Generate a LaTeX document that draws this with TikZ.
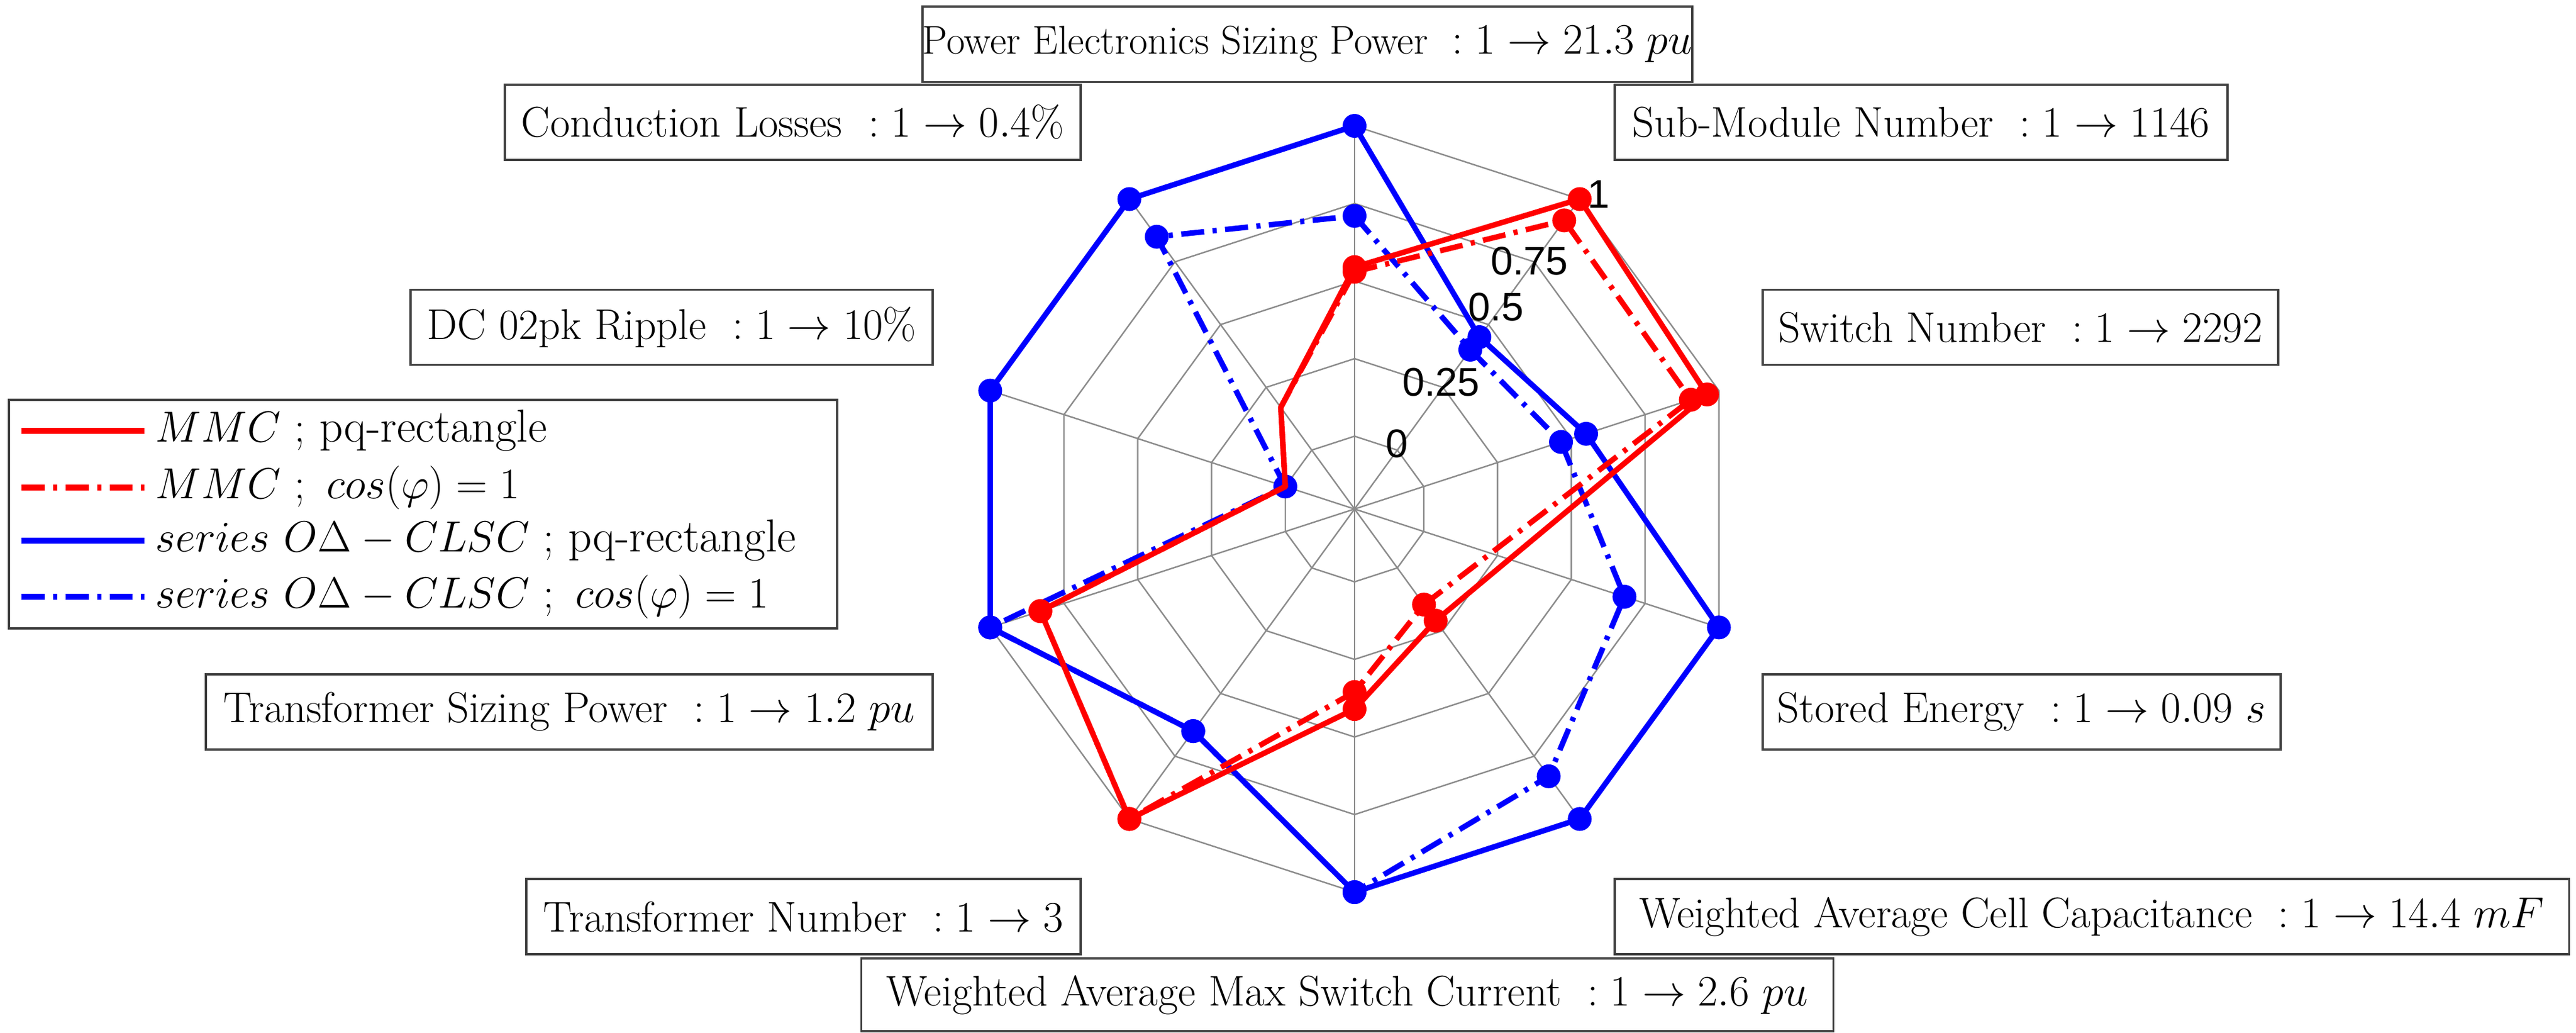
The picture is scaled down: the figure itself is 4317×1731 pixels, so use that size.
\documentclass[tikz,border=0pt]{standalone}
\usepackage{fontspec}
\newfontfamily\ticksf{Liberation Sans}
\begin{document}
\begin{tikzpicture}[x=0.01cm,y=0.01cm,
  box/.style={draw=black!75,line width=1.1pt,minimum height=1.26cm,inner sep=0pt,font=\fontsize{20.5}{24}\selectfont},
  grid/.style={draw=black!45,line width=0.7pt},
  ser/.style={line width=2.6pt,line join=round},
  dd/.style={dash pattern=on 11pt off 4pt on 2pt off 4pt},
  ticklbl/.style={font=\ticksf\fontsize{19}{22}\selectfont,inner sep=0pt}]
\useasboundingbox (0,0) rectangle (4317,1731);
% chart
\begin{scope}[shift={(2270,878)}]
  \coordinate (c) at (0,0);
  \foreach \v in {0,0.25,0.5,0.75,1}{
    \draw[grid] (90:{122+520*\v}) \foreach \k in {1,...,9}{ -- ({90-36*\k}:{122+520*\v}) } -- cycle;
  }
  \foreach \k in {0,...,9}{ \draw[grid] (c) -- ({90-36*\k}:642); }
  % data
  \foreach \v [count=\k from 0] in {1,0.45,0.55,1,1,1,0.65,1,1,1}
    \coordinate (bs\k) at ({90-36*\k}:{122+520*\v});
  \foreach \v [count=\k from 0] in {0.71,0.40,0.465,0.68,0.83,1,0.65,1,0,0.85}
    \coordinate (bd\k) at ({90-36*\k}:{122+520*\v});
  \foreach \v [count=\k from 0] in {0.545,1,0.96,0,0.21,0.41,1,0.83,0,0.17}
    \coordinate (rs\k) at ({90-36*\k}:{122+520*\v});
  \foreach \v [count=\k from 0] in {0.53,0.915,0.905,0,0.146,0.355,1,0.83,0,0.17}
    \coordinate (rd\k) at ({90-36*\k}:{122+520*\v});
  \draw[ser,blue,dd] (bd0)--(bd1)--(bd2)--(bd3)--(bd4)--(bd5)--(bd6)--(bd7)--(bd8)--(bd9)--cycle;
  \foreach \k in {0,...,9} \fill[blue] (bd\k) circle (20);
  \draw[ser,blue] (bs0)--(bs1)--(bs2)--(bs3)--(bs4)--(bs5)--(bs6)--(bs7)--(bs8)--(bs9)--cycle;
  \foreach \k in {0,...,9} \fill[blue] (bs\k) circle (20);
  \draw[ser,red,dd] (rd0)--(rd1)--(rd2)--(rd4)--(rd5)--(rd6)--(rd7)--(rd8)--(rd9)--cycle;
  \foreach \k in {0,1,2,4,5,6,7} \fill[red] (rd\k) circle (20);
  \draw[ser,red] (rs0)--(rs1)--(rs2)--(rs4)--(rs5)--(rs6)--(rs7)--(rs8)--(rs9)--cycle;
  \foreach \k in {0,1,2,4,5,6,7} \fill[red] (rs\k) circle (20);
\end{scope}
\node[ticklbl] (t1) at (2679,1405) {1};
\node[ticklbl] (t2) at (2563,1293) {0.75};
\node[ticklbl] (t3) at (2507,1216) {0.5};
\node[ticklbl] (t4) at (2415,1090) {0.25};
\node[ticklbl] (t5) at (2341,987) {0};
% labels
\node[box,minimum width=12.84cm,font=\fontsize{19.2}{23}\selectfont] (pe) at (2191,1656.5) {Power Electronics Sizing Power~ $:1\rightarrow 21.3\ pu$};
\node[box,minimum width=9.65cm] (cl) at (1328.5,1526) {Conduction Losses~ $:1\rightarrow 0.4\%$};
\node[box,minimum width=10.27cm] (smn) at (3219.5,1526) {Sub-Module Number~ $:1\rightarrow 1146$};
\node[box,minimum width=8.75cm] (dc) at (1125.5,1182.5) {DC 02pk Ripple~ $:1\rightarrow 10\%$};
\node[box,minimum width=8.64cm] (sn) at (3386,1182.5) {Switch Number~ $:1\rightarrow 2292$};
\node[box,minimum width=12.18cm] (tsp) at (954,538) {Transformer Sizing Power~ $:1\rightarrow 1.2\ pu$};
\node[box,minimum width=8.68cm] (se) at (3388,538) {Stored Energy~ $:1\rightarrow 0.09\ s$};
\node[box,minimum width=9.29cm] (tn) at (1346.5,195) {Transformer Number~ $:1\rightarrow 3$};
\node[box,minimum width=15.99cm] (wacc) at (3505.5,195) {Weighted Average Cell Capacitance~ $:1\rightarrow 14.4\ mF$};
\node[box,minimum width=16.28cm,minimum height=1.22cm,fill=white] (wam) at (2258,64) {Weighted Average Max Switch Current~ $:1\rightarrow 2.6\ pu$};
% legend
\node[box,minimum width=13.88cm,minimum height=3.83cm] (leg) at (709,869.5) {};
\coordinate (l1a) at (36,1009); \coordinate (l1b) at (242,1009);
\coordinate (l2a) at (36,914);  \coordinate (l2b) at (242,914);
\coordinate (l3a) at (36,825);  \coordinate (l3b) at (242,825);
\coordinate (l4a) at (36,731);  \coordinate (l4b) at (242,731);
\draw[ser,red] (l1a)--(l1b);
\draw[ser,red,dd] (l2a)--(l2b);
\draw[ser,blue] (l3a)--(l3b);
\draw[ser,blue,dd] (l4a)--(l4b);
\begin{scope}[every node/.style={anchor=west,inner sep=0pt,font=\fontsize{22}{26}\selectfont}]
\node (e1) at (260,1009) {$MMC\ ;$\ pq-rectangle};
\node (e2) at (260,914) {$MMC\ ;\ cos(\varphi)=1$};
\node (e3) at (260,825) {$series\ O\Delta-CLSC\ ;$\ pq-rectangle};
\node (e4) at (260,731) {$series\ O\Delta-CLSC\ ;\ cos(\varphi)=1$};
\end{scope}
\end{tikzpicture}
\end{document}
